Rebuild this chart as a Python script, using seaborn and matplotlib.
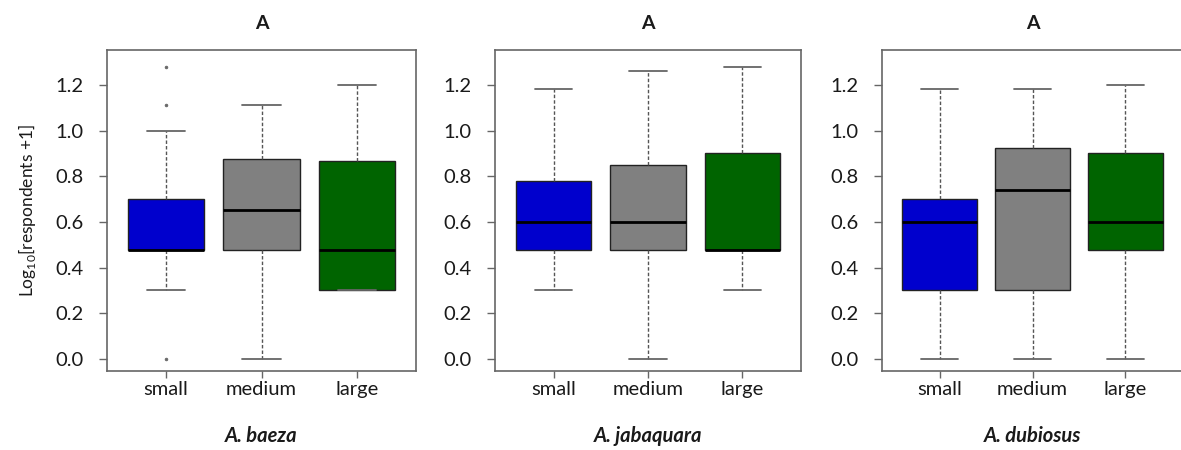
import numpy as np
import pandas as pd
import matplotlib
matplotlib.use("Agg")
import matplotlib.pyplot as plt
import seaborn as sns

# ---- data (log10[respondents + 1] values) ----
sizes = ["small", "medium", "large"]
species = ["A. baeza", "A. jabaquara", "A. dubiosus"]
panel_titles = ["A", "A", "A"]
box_colors = ["#0000CD", "#808080", "#006400"]

baeza_small = [0.0, 0.30, 0.477, 0.477, 0.477, 0.477, 0.477, 0.60, 0.70, 0.70, 1.0, 1.11, 1.28]
baeza_medium = [0.0, 0.477, 0.65, 0.875, 1.11]
baeza_large = [0.30, 0.30, 0.477, 0.866, 1.20]

jabaquara_small = [0.30, 0.477, 0.60, 0.78, 1.18]
jabaquara_medium = [0.0, 0.477, 0.60, 0.85, 1.26]
jabaquara_large = [0.30, 0.477, 0.477, 0.90, 1.28]

dubiosus_small = [0.0, 0.30, 0.60, 0.70, 1.18]
dubiosus_medium = [0.0, 0.30, 0.74, 0.925, 1.18]
dubiosus_large = [0.0, 0.477, 0.60, 0.90, 1.20]

yticks = [0.0, 0.2, 0.4, 0.6, 0.8, 1.0, 1.2]
ylabel = "Log$_{10}$[respondents +1]"

panel_data = [
    [baeza_small, baeza_medium, baeza_large],
    [jabaquara_small, jabaquara_medium, jabaquara_large],
    [dubiosus_small, dubiosus_medium, dubiosus_large],
]

sns.set_theme(style="white")
plt.rcParams["font.family"] = ["Lato", "DejaVu Sans"]
plt.rcParams["mathtext.fontset"] = "custom"
plt.rcParams["mathtext.rm"] = "Lato"

W, H = 1181, 450
fig = plt.figure(figsize=(W / 100, H / 100), dpi=100)

lefts = [107, 495, 882]
rights = [416, 801, 1183]
top_px, bottom_px = 50, 371

for i in range(3):
    l, r = lefts[i], rights[i]
    ax = fig.add_axes([l / W, 1 - bottom_px / H, (r - l) / W, (bottom_px - top_px) / H])
    rows = []
    for g, vals in zip(sizes, panel_data[i]):
        for v in vals:
            rows.append({"size": g, "value": v})
    df = pd.DataFrame(rows)
    sns.boxplot(
        data=df, x="size", y="value", hue="size", order=sizes, hue_order=sizes,
        palette=box_colors, saturation=1, legend=False, width=0.8, whis=1.5, ax=ax,
        boxprops={"edgecolor": "#222222", "linewidth": 1.0},
        medianprops={"color": "black", "linewidth": 2.0},
        whiskerprops={"color": "#555555", "linewidth": 1.0, "linestyle": (0, (2.5, 1.5))},
        capprops={"color": "#666666", "linewidth": 1.3},
        flierprops={"marker": "o", "markersize": 2.0, "markerfacecolor": "#666666",
                    "markeredgecolor": "#666666", "markeredgewidth": 0.5},
    )
    ax.set_xlim(-0.62, 2.62)
    ax.set_ylim(-0.053, 1.353)
    ax.set_yticks(yticks)
    ax.set_yticklabels([f"{t:.1f}" for t in yticks])
    ax.tick_params(axis="both", which="both", direction="out", length=6, width=1,
                   color="#666666", labelsize=14.5, labelcolor="#1a1a1a",
                   left=True, bottom=True)
    ax.tick_params(axis="y", pad=11)
    ax.tick_params(axis="x", pad=2, length=5)
    for s in ax.spines.values():
        s.set_visible(True)
        s.set_color("#666666")
        s.set_linewidth(1.2)
    ax.set_title(panel_titles[i], fontsize=14, fontweight="bold", pad=15, color="#1a1a1a")
    ax.set_xlabel(species[i], fontsize=14.5, fontweight="bold", fontstyle="italic",
                  labelpad=20, color="#1a1a1a")
    if i == 0:
        ax.set_ylabel(ylabel, fontsize=12.5, color="#1a1a1a", labelpad=12)
    else:
        ax.set_ylabel("")
    ax.grid(False)

fig.savefig("out.png", dpi=100, facecolor="white")
